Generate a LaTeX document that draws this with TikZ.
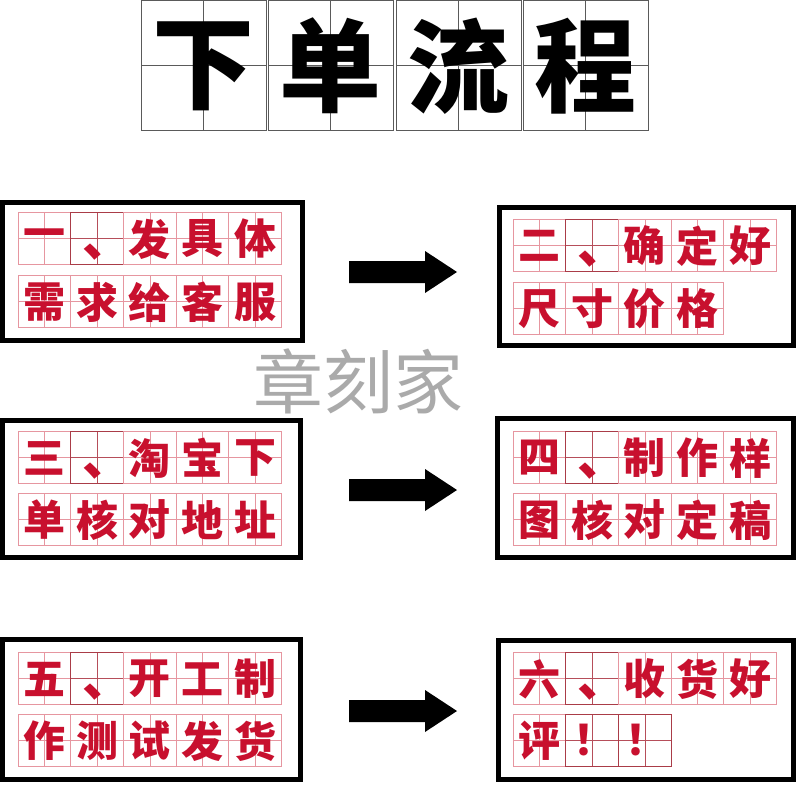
\documentclass[tikz,border=0pt]{standalone}
\usepackage{fontspec}
\newfontfamily\cjk{Noto Sans CJK SC}
\usetikzlibrary{calc}
\definecolor{redchar}{RGB}{200,16,46}
\definecolor{cellpink}{RGB}{230,150,160}
\definecolor{celldark}{RGB}{170,60,72}
\definecolor{titlegrid}{RGB}{90,90,90}
\definecolor{wm}{RGB}{170,170,170}
\tikzset{
  frame/.style={draw=black, line width=5pt, fill=white, inner sep=0pt, outer sep=0pt},
  cellbox/.style={draw=cellpink, line width=0.7pt},
  celldk/.style={draw=celldark, line width=0.8pt},
  midline/.style={draw=cellpink, line width=0.5pt},
  midlinedk/.style={draw=celldark!80!cellpink, line width=0.5pt},
  redtext/.style={text=redchar, inner sep=0pt, font=\cjk\bfseries\fontsize{42}{42}\selectfont},
  commatext/.style={text=redchar, inner sep=0pt, font=\cjk\bfseries\fontsize{50}{50}\selectfont},
  titlecell/.style={draw=titlegrid, line width=1pt},
  titleline/.style={draw=titlegrid, line width=0.8pt},
  titletext/.style={text=black, inner sep=0pt, font=\cjk\bfseries\fontsize{102}{102}\selectfont},
  blockarrow/.style={fill=black},
}
% \cellrow{prefix}{x0}{y0}{list ch/style}; style 0 plain, 1 dark + comma, 2 dark
\newcommand{\cellrow}[4]{%
  \foreach \ch/\st [count=\i from 0] in {#4} {
    \pgfmathsetmacro{\xa}{#2+\i*52.7}
    \pgfmathsetmacro{\xb}{\xa+52.7}
    \pgfmathsetmacro{\xm}{\xa+26.35}
    \pgfmathsetmacro{\ya}{#3}
    \pgfmathsetmacro{\yb}{#3+52}
    \pgfmathsetmacro{\ym}{#3+26}
    \ifnum\st=0
      \draw[midline] (\xm,\ya) -- (\xm,\yb) (\xa,\ym) -- (\xb,\ym);
      \draw[cellbox] (\xa,\ya) rectangle (\xb,\yb);
      \node[redtext] (#1-\i) at (\xm,\ym+1) {\ch};
    \else
      \draw[midlinedk] (\xm,\ya) -- (\xm,\yb) (\xa,\ym) -- (\xb,\ym);
      \draw[celldk] (\xa,\ya) rectangle (\xb,\yb);
      \ifnum\st=1
        \node[commatext] (#1-\i) at (\xm-2,\ym+14) {\makebox[25pt][l]{\ch}};
      \else
        \node[redtext, xshift=2pt] (#1-\i) at (\xm,\ym) {\ch};
      \fi
    \fi
  }%
}
\begin{document}
\begin{tikzpicture}[x=1pt,y=-1pt]
\useasboundingbox (0,0) rectangle (800,800);
\fill[white] (0,0) rectangle (800,800);

% title
\foreach \ch/\xa [count=\i] in {下/141,单/268,流/396,程/523} {
  \pgfmathsetmacro{\xb}{\xa+125}
  \pgfmathsetmacro{\xm}{\xa+62.5}
  \draw[titleline] (\xm,1) -- (\xm,130) (\xa,65.5) -- (\xb,65.5);
  \draw[titlecell] (\xa,1) rectangle (\xb,130);
  \node[titletext] (t\i) at (\xm,66) {\ch};
}

% frames
\node[frame, minimum width=300pt, minimum height=138pt] (b1) at (152.5,271.5) {};
\node[frame, minimum width=294pt, minimum height=138pt] (b2) at (646.5,276.5) {};
\node[frame, minimum width=298pt, minimum height=137pt] (b3) at (151.5,489) {};
\node[frame, minimum width=296pt, minimum height=139pt] (b4) at (645.5,488) {};
\node[frame, minimum width=298pt, minimum height=140pt] (b5) at (151.5,709.5) {};
\node[frame, minimum width=295pt, minimum height=139pt] (b6) at (646,710) {};

% box contents
\cellrow{a1}{18}{212}{一/0,、/1,发/0,具/0,体/0}
\cellrow{a2}{18}{275}{需/0,求/0,给/0,客/0,服/0}
\cellrow{c1}{513}{219}{二/0,、/1,确/0,定/0,好/0}
\cellrow{c2}{513}{282}{尺/0,寸/0,价/0,格/0}
\cellrow{e1}{18}{431}{三/0,、/1,淘/0,宝/0,下/0}
\cellrow{e2}{18}{493}{单/0,核/0,对/0,地/0,址/0}
\cellrow{f1}{513}{431}{四/0,、/1,制/0,作/0,样/0}
\cellrow{f2}{513}{493}{图/0,核/0,对/0,定/0,稿/0}
\cellrow{g1}{18}{652}{五/0,、/1,开/0,工/0,制/0}
\cellrow{g2}{18}{714}{作/0,测/0,试/0,发/0,货/0}
\cellrow{h1}{513}{652}{六/0,、/1,收/0,货/0,好/0}
\cellrow{h2}{513}{714}{评/0,！/2,！/2}

% arrows
\foreach \n/\y in {1/272,2/490,3/711} {
  \coordinate (ar\n) at (349,\y);
  \fill[blockarrow] (ar\n) ++(0,-11) -- ++(76,0) -- ++(0,-10) -- ++(32,21) -- ++(-32,21) -- ++(0,-10) -- ++(-76,0) -- cycle;
}

% watermark
\node[text=wm, inner sep=0pt, font=\cjk\fontsize{70}{70}\selectfont] (wm) at (358,381) {章刻家};
\end{tikzpicture}
\end{document}
